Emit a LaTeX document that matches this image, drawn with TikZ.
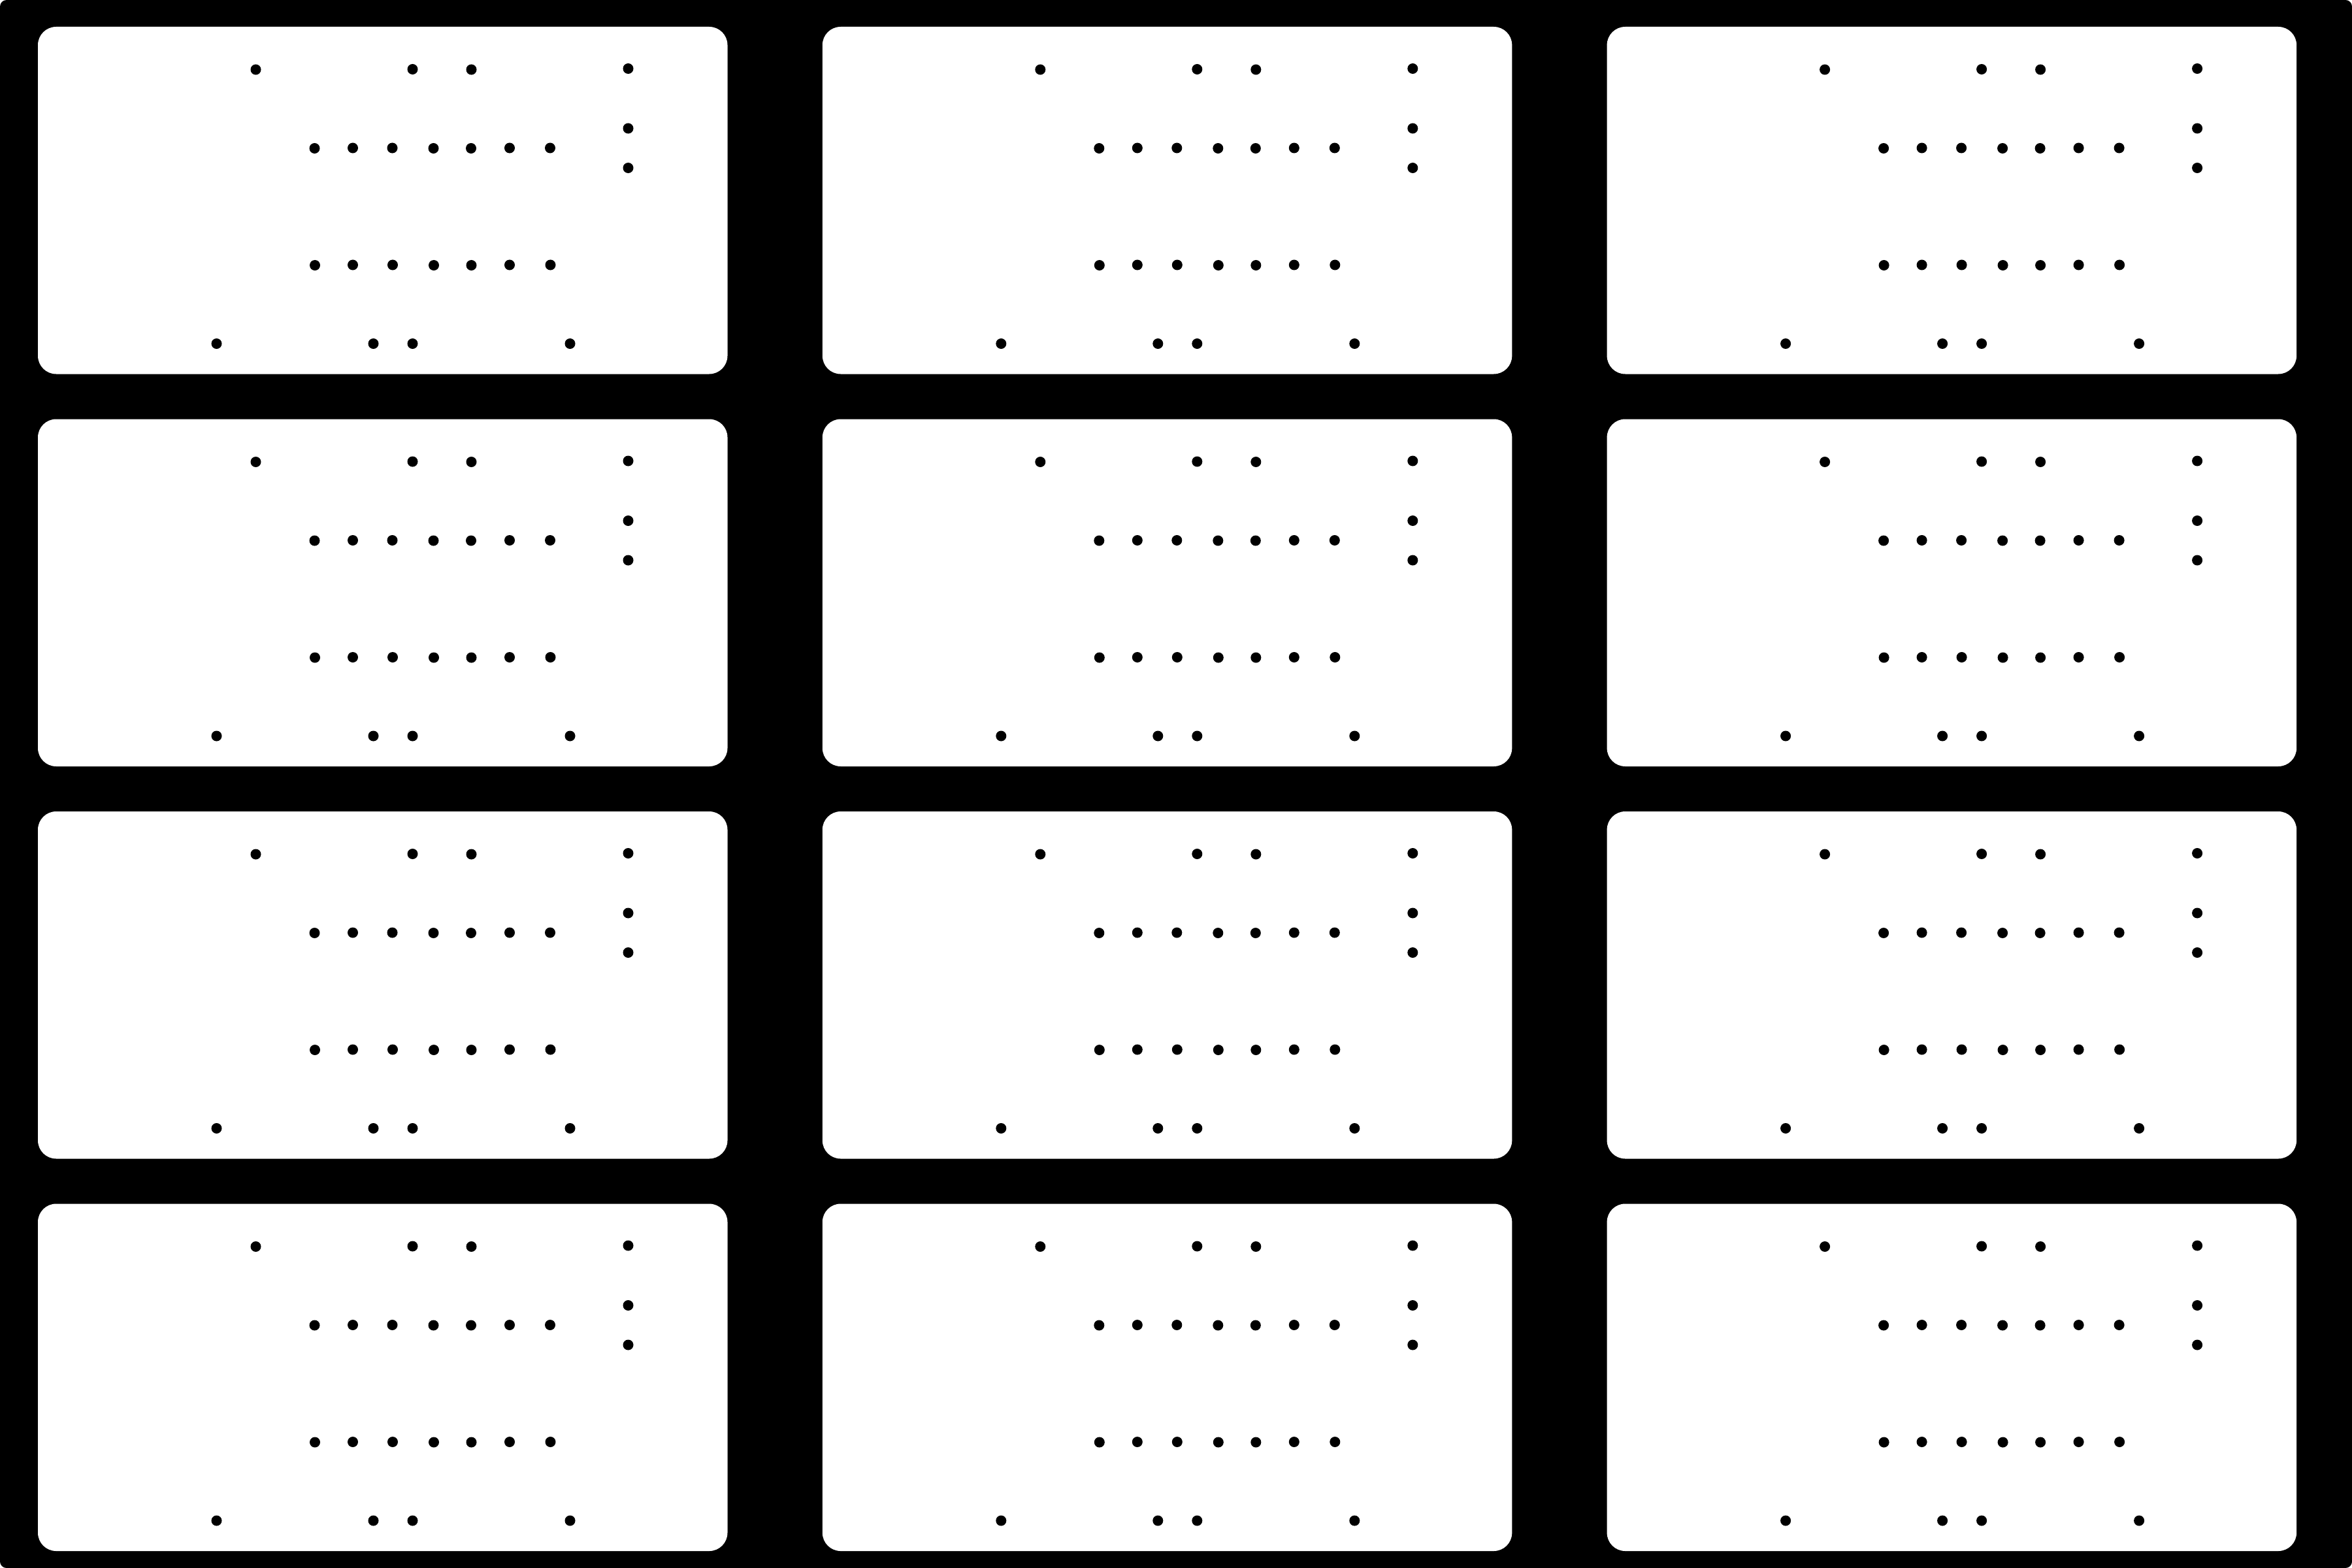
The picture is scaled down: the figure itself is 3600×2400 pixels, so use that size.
\documentclass[tikz,border=0pt]{standalone}
\begin{document}
\begin{tikzpicture}[x=0.01cm,y=-0.01cm,
  sheet/.style={fill=black,rounded corners=0.1cm},
  panel/.style={fill=white,rounded corners=0.28cm},
  hole/.style={fill=black}]
\useasboundingbox (0,0) rectangle (3600,2400);
\fill[sheet] (0,0) rectangle (3600,2400);
\foreach \c in {0,1,2}{
  \foreach \r in {0,1,2,3}{
    \begin{scope}[shift={(58+1200.8*\c,41+600.5*\r)}]
      \fill[panel] (0,0) rectangle (1055.5,531.5);
      \foreach \px/\py in {333.5/65.5,573.5/65,663.5/65.5,903.5/64,
                           903.5/155.5,903.5/216,
                           423.5/186,482/185.5,542.5/185.5,605.5/186,663/186,722/185.5,784/185.5,
                           424/365,482/364.5,543/364.5,606/365,663.5/365,722/364.5,784.5/364.5,
                           273.5/485,513.5/485,573.5/485,814.5/485}
        \fill[hole] (\px,\py) circle[radius=0.08cm];
    \end{scope}
  }
}
\end{tikzpicture}
\end{document}
